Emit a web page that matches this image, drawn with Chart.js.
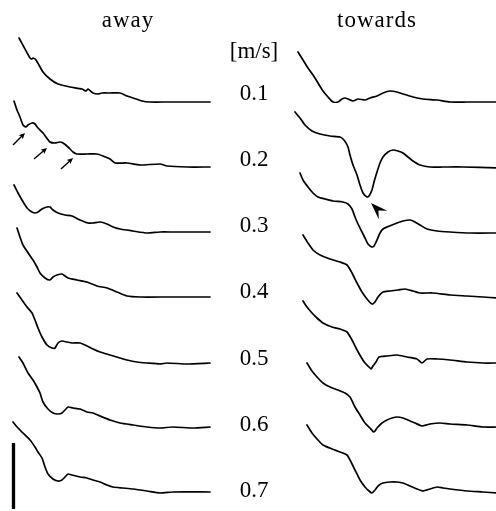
<!DOCTYPE html>
<html>
<head>
<meta charset="utf-8">
<script src="https://cdn.jsdelivr.net/npm/chart.js@4/dist/chart.umd.min.js"></script>
<style>
  html, body { margin: 0; padding: 0; background: #fff; }
  #wrap { position: relative; width: 496px; height: 511px; overflow: hidden; }
  canvas { position: absolute; top: 0; }
  .txt { position: absolute; font-family: "Liberation Serif", serif; font-size: 23px; line-height: 23px; color: #000; white-space: nowrap; transform: translateX(-50%); }
  .title { letter-spacing: 1px; }
</style>
</head>
<body>
<div id="wrap">
  <canvas id="awayChart" width="250" height="511" style="left:0"></canvas>
  <canvas id="towardsChart" width="246" height="511" style="left:250px"></canvas>
</div>
<script>
// speeds (row labels) and column titles
const speeds = ['0.1', '0.2', '0.3', '0.4', '0.5', '0.6', '0.7'];
const columnTitles = ['away', 'towards'];
const unitLabel = '[m/s]';

// traces: [time, deflection above the trace's resting level]
const away01 = [[6,64],[17,44],[19,43],[20,44],[23,42],[30,30],[37,23],[45,18],[57,15],[69,13],[73,11],[75,13],[80,9],[85,8],[89,9],[97,9],[107,9],[114,6],[120,4],[129,1],[137,0],[154,0],[174,0],[179,0],[197,0]];
const away02 = [[1,66],[4,57],[7,50],[10,42],[13,40],[15,42],[19,44],[22,43],[25,39],[30,34],[37,25],[42,24],[47,25],[50,24],[55,20],[60,15],[64,13],[74,13],[84,13],[90,11],[97,8],[102,4],[114,4],[127,2],[147,3],[154,1],[174,0],[197,0]];
const away03 = [[1,47],[5,39],[9,32],[12,27],[15,23],[19,20],[22,19],[25,20],[29,23],[34,25],[37,25],[40,22],[45,19],[52,17],[59,16],[67,12],[75,9],[80,9],[87,10],[94,8],[100,5],[107,3],[120,1],[134,-1],[147,0],[160,0],[197,0]];
const away04 = [[4,69],[10,52],[20,37],[24,30],[27,24],[32,19],[37,17],[40,20],[44,22],[49,23],[52,21],[55,19],[64,17],[74,15],[84,11],[94,9],[104,5],[114,1],[127,0],[154,0],[197,0]];
const away05 = [[4,69],[9,62],[14,55],[19,49],[22,42],[25,34],[29,25],[34,17],[39,14],[42,14],[45,19],[49,21],[54,20],[59,19],[67,19],[74,16],[80,13],[87,10],[97,7],[107,4],[114,2],[124,0],[134,-1],[147,-2],[154,-1],[174,-2],[197,-1]];
const away06 = [[6,70],[10,64],[15,54],[20,47],[24,40],[27,34],[30,25],[35,18],[40,14],[45,13],[49,14],[52,17],[55,20],[60,19],[67,18],[74,15],[80,14],[87,11],[97,7],[107,4],[120,2],[134,0],[147,-1],[160,0],[180,-1],[197,0]];
const away07 = [[0,70],[5,64],[10,59],[17,52],[22,45],[25,40],[29,34],[32,25],[35,18],[40,13],[45,11],[49,12],[52,15],[55,18],[59,17],[67,15],[74,14],[80,12],[87,10],[94,7],[100,5],[110,4],[120,3],[134,1],[147,-1],[160,0],[197,0]];

const towards01 = [[3,50],[8,42],[13,34],[18,27],[23,19],[28,11],[33,5],[38,0],[43,0],[47,3],[50,4],[53,3],[58,1],[63,3],[70,2],[75,4],[82,6],[88,9],[95,11],[102,10],[108,8],[118,5],[128,3],[142,2],[155,0],[172,0],[188,0],[202,0]];
const towards02 = [[0,55],[5,49],[10,42],[17,36],[25,33],[35,31],[45,30],[49,27],[53,20],[55,12],[58,2],[62,-8],[65,-18],[68,-26],[72,-30],[74,-29],[77,-23],[79,-15],[82,-5],[85,4],[88,10],[93,15],[98,17],[103,16],[108,14],[113,10],[118,6],[125,2],[135,0],[148,0],[168,0],[202,-1]];
const towards03 = [[5,59],[8,52],[13,45],[18,39],[23,35],[30,33],[38,31],[48,30],[53,28],[57,23],[60,15],[63,8],[67,0],[70,-6],[73,-12],[77,-15],[79,-14],[82,-8],[85,-1],[88,3],[92,5],[97,7],[102,9],[108,11],[115,12],[120,10],[125,7],[132,3],[142,1],[155,0],[175,-1],[202,-1]];
const towards04 = [[8,62],[13,54],[18,47],[25,42],[35,38],[45,35],[52,32],[57,24],[62,14],[67,5],[72,-2],[77,-7],[80,-5],[83,0],[88,5],[95,6],[103,7],[110,8],[118,6],[125,4],[138,4],[155,2],[172,1],[188,0],[202,-1]];
const towards05 = [[8,61],[12,55],[17,49],[22,44],[28,39],[37,35],[45,33],[52,30],[57,22],[61,14],[66,5],[70,-1],[74,-5],[76,-7],[78,-4],[81,0],[84,5],[92,6],[102,7],[112,5],[122,3],[127,-1],[132,3],[142,3],[155,2],[172,0],[188,-1],[202,-1]];
const towards06 = [[12,64],[17,56],[22,50],[28,44],[35,40],[43,37],[50,34],[55,30],[60,20],[65,12],[70,4],[75,-1],[79,-5],[82,-1],[87,4],[92,7],[97,9],[102,10],[108,9],[115,6],[120,4],[127,1],[135,3],[145,4],[155,3],[172,2],[188,0],[202,0]];
const towards07 = [[12,67],[17,59],[22,53],[28,47],[37,43],[45,40],[52,37],[56,30],[60,22],[65,12],[70,5],[74,1],[77,-1],[80,2],[83,6],[88,9],[95,10],[102,10],[108,9],[115,6],[122,3],[128,1],[135,3],[142,5],[148,4],[155,3],[172,1],[188,0],[202,-1]];

const awaySeries = [away01, away02, away03, away04, away05, away06, away07];
const towardsSeries = [towards01, towards02, towards03, towards04, towards05, towards06, towards07];

// marks on the 0.2 row: small arrows (tail -> tip) on "away", arrowhead tip on "towards"
const awayArrows = [[0,22,12,34],[21,8,34,19],[48,-2,60,9]];
const towardsArrowTip = [76, -36];
// calibration bar, drawn next to the 0.7 "away" trace
const scaleBar = [49, -17];

const ROW0 = 102, ROW_GAP = 65;
const rowY = i => -(ROW0 + i * ROW_GAP);

function traceSets(series) {
  return series.map((pts, i) => ({
    data: pts.map(p => ({ x: p[0], y: p[1] + rowY(i) })),
    showLine: true,
    borderColor: '#000',
    borderWidth: 1.7,
    pointRadius: 0,
    tension: 0.2,
    borderJoinStyle: 'round',
    borderCapStyle: 'round'
  }));
}

function head(ctx, tx, ty, ang, len, half, notch) {
  const ux = Math.cos(ang), uy = Math.sin(ang);
  const nx = -uy, ny = ux;
  ctx.beginPath();
  ctx.moveTo(tx, ty);
  ctx.lineTo(tx + len * ux + half * nx, ty + len * uy + half * ny);
  ctx.lineTo(tx + notch * len * ux, ty + notch * len * uy);
  ctx.lineTo(tx + len * ux - half * nx, ty + len * uy - half * ny);
  ctx.closePath();
  ctx.fill();
}

const arrowPlugin = {
  id: 'arrows',
  afterDatasetsDraw(chart) {
    const { ctx, scales: { x, y } } = chart;
    ctx.save();
    ctx.fillStyle = '#000';
    ctx.strokeStyle = '#000';
    if (chart.canvas.id === 'awayChart') {
      awayArrows.forEach(a => {
        const x0 = x.getPixelForValue(a[0]), y0 = y.getPixelForValue(a[1] + rowY(1));
        const x1 = x.getPixelForValue(a[2]), y1 = y.getPixelForValue(a[3] + rowY(1));
        const ang = Math.atan2(y0 - y1, x0 - x1);
        ctx.lineWidth = 1.4;
        ctx.beginPath();
        ctx.moveTo(x0, y0);
        ctx.lineTo(x1 + 4 * Math.cos(ang), y1 + 4 * Math.sin(ang));
        ctx.stroke();
        head(ctx, x1, y1, ang, 6, 2.8, 0.8);
      });
    } else {
      const tx = x.getPixelForValue(towardsArrowTip[0]);
      const ty = y.getPixelForValue(towardsArrowTip[1] + rowY(1));
      head(ctx, tx, ty, Math.PI / 4, 17, 6, 0.62);
    }
    ctx.restore();
  }
};

function makeChart(id, series, xmin, xmax, extra) {
  const datasets = traceSets(series).concat(extra || []);
  return new Chart(document.getElementById(id).getContext('2d'), {
    type: 'scatter',
    data: { datasets },
    options: {
      responsive: false,
      animation: false,
      events: [],
      layout: { padding: 0 },
      plugins: { legend: { display: false }, tooltip: { enabled: false } },
      scales: {
        x: { type: 'linear', display: false, min: xmin, max: xmax },
        y: { type: 'linear', display: false, min: -511, max: 0 }
      }
    },
    plugins: [arrowPlugin]
  });
}

makeChart('awayChart', awaySeries, -13, 237, [{
  data: scaleBar.map(v => ({ x: 0.5, y: v + rowY(6) })),
  showLine: true,
  borderColor: '#000',
  borderWidth: 3.3,
  pointRadius: 0,
  borderCapStyle: 'butt'
}]);
makeChart('towardsChart', towardsSeries, -45, 201);

// text
const wrap = document.getElementById('wrap');
function addText(str, cx, baseline, cls) {
  const d = document.createElement('div');
  d.className = 'txt' + (cls ? ' ' + cls : '');
  d.textContent = str;
  d.style.left = cx + 'px';
  d.style.top = (baseline - 19.2) + 'px';
  wrap.appendChild(d);
}
addText(columnTitles[0], 128, 27, 'title');
addText(columnTitles[1], 377, 27, 'title');
addText(unitLabel, 254, 58);
speeds.forEach((s, i) => addText(s, 254, 100 + i * 66.2));
</script>
</body>
</html>
